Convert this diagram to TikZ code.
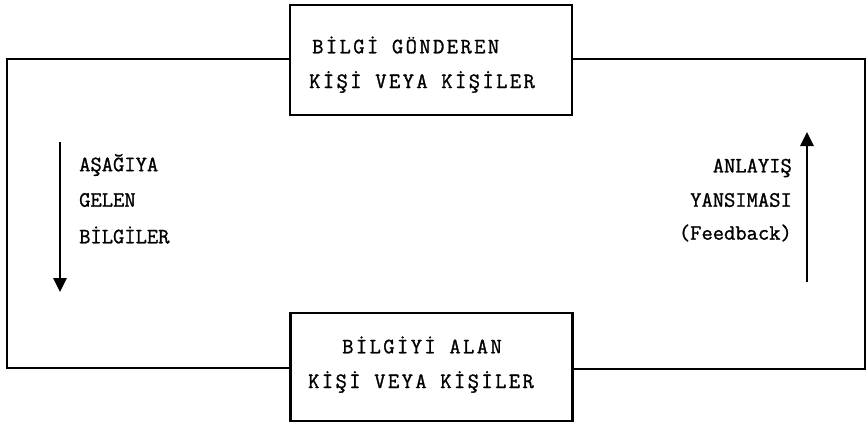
\documentclass[tikz,border=0pt]{standalone}
\usepackage{fontspec}
\usetikzlibrary{arrows.meta}
\newfontfamily\boxfont[LetterSpace=11,FakeBold=1.2]{Latin Modern Mono}
\newfontfamily\sidefont[LetterSpace=0,FakeBold=1.2]{Latin Modern Mono}
\begin{document}
\begin{tikzpicture}[x=1bp,y=-1bp,
  line/.style={line width=2.8bp},
  partybox/.style={draw,line width=2.8bp,minimum width=282bp,minimum height=#1,inner sep=0pt},
  boxtext/.style={font=\boxfont\fontsize{22}{22}\selectfont,inner sep=0pt},
  sidetext/.style={font=\sidefont\fontsize{22}{22}\selectfont,inner sep=0pt},
  flow/.style={line width=2.8bp,-{Triangle[width=13bp,length=14bp]}}]
\useasboundingbox (0,0) rectangle (867,424);

% sender and receiver boxes
\node[partybox=110bp] (snd) at (431,60) {};
\node[partybox=108bp] (rcv) at (431.5,367) {};

\node[boxtext,anchor=west] (snd1) at (312,45) {BİLGİ GÖNDEREN};
\node[boxtext,anchor=west] (snd2) at (309,82) {KİŞİ VEYA KİŞİLER};
\node[boxtext] (rcv1) at (422,345) {BİLGİYİ ALAN};
\node[boxtext] (rcv2) at (421,382) {KİŞİ VEYA KİŞİLER};

% outer loop
\coordinate (ltop) at (7,59);
\coordinate (lbot) at (7,368);
\coordinate (rtop) at (865,59);
\coordinate (rbot) at (865,369);
\draw[line] (snd.west |- ltop) -- (ltop) -- (lbot) -- (rcv.west |- lbot);
\draw[line] (snd.east |- rtop) -- (rtop) -- (rbot) -- (rcv.east |- rbot);

% downward information
\coordinate (dtop) at (60,142);
\coordinate (dbot) at (60,292);
\draw[flow] (dtop) -- (dbot);
\node[sidetext,anchor=west] (d1) at (79,165) {AŞAĞIYA};
\node[sidetext,anchor=west] (d2) at (79,200) {GELEN};
\node[sidetext,anchor=west] (d3) at (79,235) {BİLGİLER};

% feedback
\coordinate (ubot) at (807,282);
\coordinate (utop) at (807,132);
\draw[flow] (ubot) -- (utop);
\node[sidetext,anchor=east] (u1) at (792,168) {ANLAYIŞ};
\node[sidetext,anchor=east] (u2) at (792,200) {YANSIMASI};
\node[sidetext,anchor=east] (u3) at (792,233) {(Feedback)};
\end{tikzpicture}
\end{document}
